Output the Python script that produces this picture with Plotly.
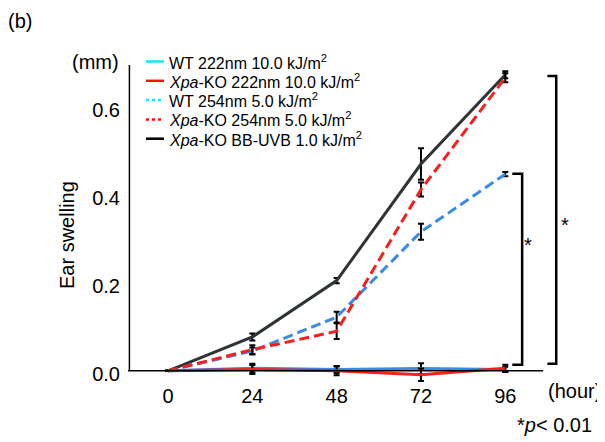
import plotly.graph_objects as go

hours = [0, 24, 48, 72, 96]
wt222 = [0, 0.006, 0.003, 0.005, 0.003]
wt222_err = [0, 0.010, 0.008, 0.012, 0.006]
ko222 = [0, 0.003, 0.0, -0.009, 0.006]
ko222_err = [0, 0.010, 0.010, 0.014, 0.008]
wt254 = [0, 0.045, 0.122, 0.316, 0.447]
wt254_err = [0, 0.008, 0.012, 0.018, 0.005]
ko254 = [0, 0.048, 0.090, 0.412, 0.666]
ko254_err = [0, 0.010, 0.018, 0.016, 0.010]
bbuvb = [0, 0.077, 0.205, 0.470, 0.673]
bbuvb_err = [0, 0.008, 0.006, 0.036, 0.008]

legend_names = [
    "WT 222nm 10.0 kJ/m<sup>2</sup>",
    "<i>Xpa</i>-KO 222nm 10.0 kJ/m<sup>2</sup>",
    "WT 254nm 5.0 kJ/m<sup>2</sup>",
    "<i>Xpa</i>-KO 254nm 5.0 kJ/m<sup>2</sup>",
    "<i>Xpa</i>-KO BB-UVB 1.0 kJ/m<sup>2</sup>",
]
y_ticks = [0, 0.2, 0.4, 0.6]
y_ticktext = ["0.0", "0.2", "0.4", "0.6"]

BLUE = "#3a8ae6"
RED = "#f5201e"
DARK = "#2e3437"
FONT = "Arial, Liberation Sans, sans-serif"

# the page body adds an 8px offset; the figure is sized so it fits the window
OFF = 8
W, H = 597, 434
ML, MR, MT, MB = 120, 40, 57, 58
XR = [-11.4, 113]
YR = [-0.03, 0.695]
PW, PH = W - ML - MR, H - MT - MB


def px(sx, sy):
    """screen pixel -> paper coordinates"""
    return ((sx - OFF) - ML) / PW, (H - MB - (sy - OFF)) / PH


fig = go.Figure()


def add(y, err, color, dash, name):
    fig.add_trace(go.Scatter(
        x=hours, y=y, mode="lines", name=name, showlegend=False,
        line=dict(color=color, width=3, dash=dash),
        error_y=dict(type="data", array=err, color="black", thickness=2, width=3),
    ))


add(wt222, wt222_err, BLUE, "solid", legend_names[0])
add(wt254, wt254_err, BLUE, "10px,5px", legend_names[2])
add(bbuvb, bbuvb_err, DARK, "solid", legend_names[4])
add(ko254, ko254_err, RED, "10px,5px", legend_names[3])
add(ko222, ko222_err, RED, "solid", legend_names[1])

shapes = []
annotations = []


def ann(text, sx, sy, size=20, xanchor="center", yanchor="middle", angle=0):
    x, y = px(sx, sy)
    annotations.append(dict(text=text, x=x, y=y, xref="paper", yref="paper",
                            showarrow=False, xanchor=xanchor, yanchor=yanchor,
                            textangle=angle, font=dict(size=size, family=FONT, color="black")))


# legend (samples use cyan/red/black as in the original)
leg_styles = [("#19e6f0", "solid"), ("#ff1010", "solid"), ("#19e6f0", "dot"),
              ("#ff1010", "dot"), ("#000000", "solid")]
LEG_Y0, LEG_DY = 61.5, 19.3
for i, (name, (c, d)) in enumerate(zip(legend_names, leg_styles)):
    yrow = LEG_Y0 + i * LEG_DY
    p0, p1 = px(146, yrow), px(164, yrow)
    shapes.append(dict(type="line", xref="paper", yref="paper", x0=p0[0], x1=p1[0],
                       y0=p0[1], y1=p1[1], line=dict(color=c, width=2.5, dash=d)))
    ann(name, 167, yrow, size=16, xanchor="left")

# axis lines
shapes.append(dict(type="line", xref="x", yref="y", x0=XR[0], x1=106.8, y0=0, y1=0,
                   line=dict(color="black", width=1.5)))
shapes.append(dict(type="line", xref="x", yref="y", x0=XR[0] + 0.4, x1=XR[0] + 0.4, y0=0, y1=YR[1],
                   line=dict(color="black", width=1.5)))
# significance brackets
for xv, xl, ytop, ybot in [(100.8, 98.0, 0.448, 0.014), (110.5, 108.0, 0.670, 0.016)]:
    shapes.append(dict(type="path", xref="x", yref="y",
                       path=f"M {xl},{ytop} L {xv},{ytop} L {xv},{ybot} L {xl},{ybot}",
                       line=dict(color="black", width=2.5)))
# gray artifact at left edge
a = px(0, 245)
b = px(4, 245)
c = px(0, 302)
d = px(11, 274)
shapes.append(dict(type="path", xref="paper", yref="paper",
                   path=f"M {a[0]-0.05},{a[1]} L {b[0]},{b[1]} Q {d[0]},{d[1]} {b[0]},{c[1]} L {a[0]-0.05},{c[1]} Z",
                   fillcolor="#e2e2e2", line=dict(width=0), layer="below"))

ann("(b)", 6, 21, xanchor="left")
ann("(mm)", 121, 62, xanchor="right")
ann("Ear swelling", 67, 235, angle=-90)
ann("(hour)", 546, 391, xanchor="left")
ann("*<i>p</i>< 0.01", 515, 425, xanchor="left")
ann("*", 528, 245)
ann("*", 565, 225)

fig.update_layout(
    width=W, height=H,
    margin=dict(l=ML, r=MR, t=MT, b=MB),
    paper_bgcolor="white", plot_bgcolor="white",
    font=dict(family=FONT, size=20, color="black"),
    showlegend=False,
    shapes=shapes, annotations=annotations,
    xaxis=dict(range=XR, showgrid=False, zeroline=False, showline=False,
               tickvals=hours, ticks="", ticklabelstandoff=-2,
               tickfont=dict(size=20, family=FONT)),
    yaxis=dict(range=YR, showgrid=False, zeroline=False, showline=False,
               tickvals=y_ticks, ticktext=y_ticktext, ticks="", ticklabelstandoff=7,
               ticklabelshift=3,
               tickfont=dict(size=20, family=FONT)),
)

fig.write_html("out.html")
